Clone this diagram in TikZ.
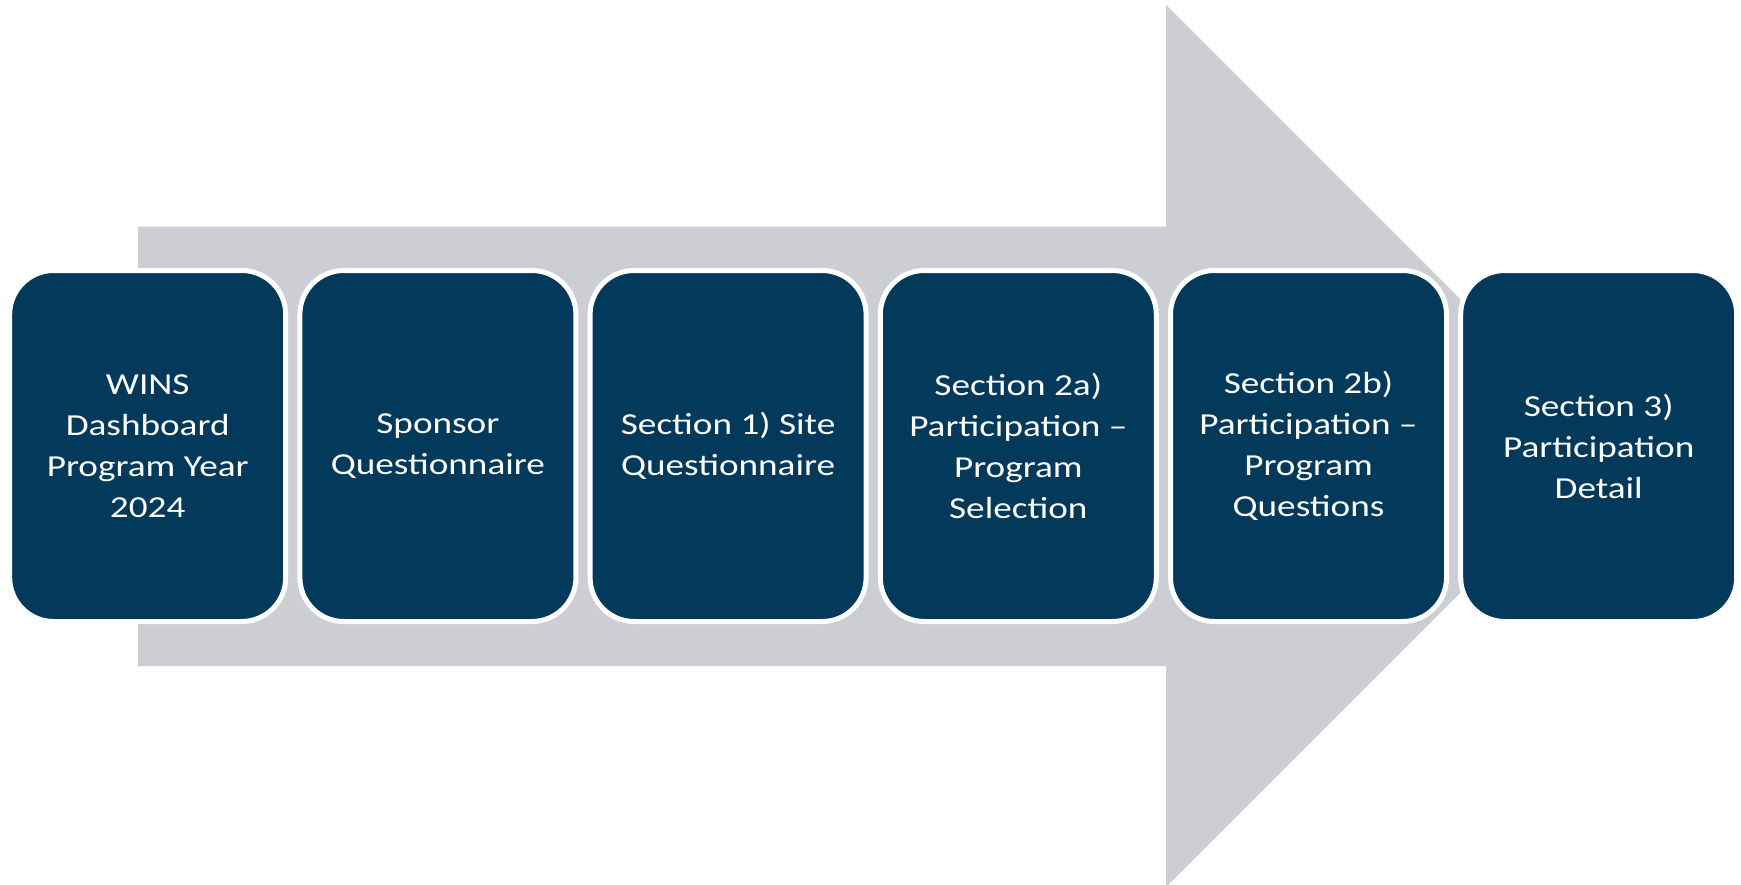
\documentclass[tikz,border=0pt]{standalone}
\usepackage{fontspec}
\setmainfont{Carlito}[FakeStretch=1.22]
\definecolor{navy}{RGB}{3,57,91}
\definecolor{arrowgray}{RGB}{204,206,211}
\begin{document}
\begin{tikzpicture}[x=1pt,y=-1pt,
  stepbox/.style={draw=white,line width=5pt,fill=navy,rounded corners=44pt,
    minimum width=276pt,minimum height=351pt,inner sep=0pt,
    text=white,align=center,
    font=\fontsize{30.5pt}{41pt}\selectfont}]
\useasboundingbox (0,0) rectangle (1741,884);
\fill[white] (0,0) rectangle (1741,884);
% big arrow
\fill[arrowgray] (138,226.5) -- (1166,226.5) -- (1166,5) -- (1462,301)
  -- (1462,591) -- (1166,887) -- (1166,666) -- (138,666) -- cycle;
% boxes
\node[stepbox] (b1) at (147.7,446) {WINS\\Dashboard\\Program Year\\2024};
\node[stepbox] (b2) at (437.9,446) {Sponsor\\Questionnaire};
\node[stepbox] (b3) at (728.1,446) {Section 1) Site\\Questionnaire};
\node[stepbox] (b4) at (1018.3,446) {Section 2a)\\Participation –\\Program\\Selection};
\node[stepbox] (b5) at (1308.5,446) {Section 2b)\\Participation –\\Program\\Questions};
\node[stepbox] (b6) at (1598.7,446) {Section 3)\\Participation\\Detail};
\end{tikzpicture}
\end{document}
